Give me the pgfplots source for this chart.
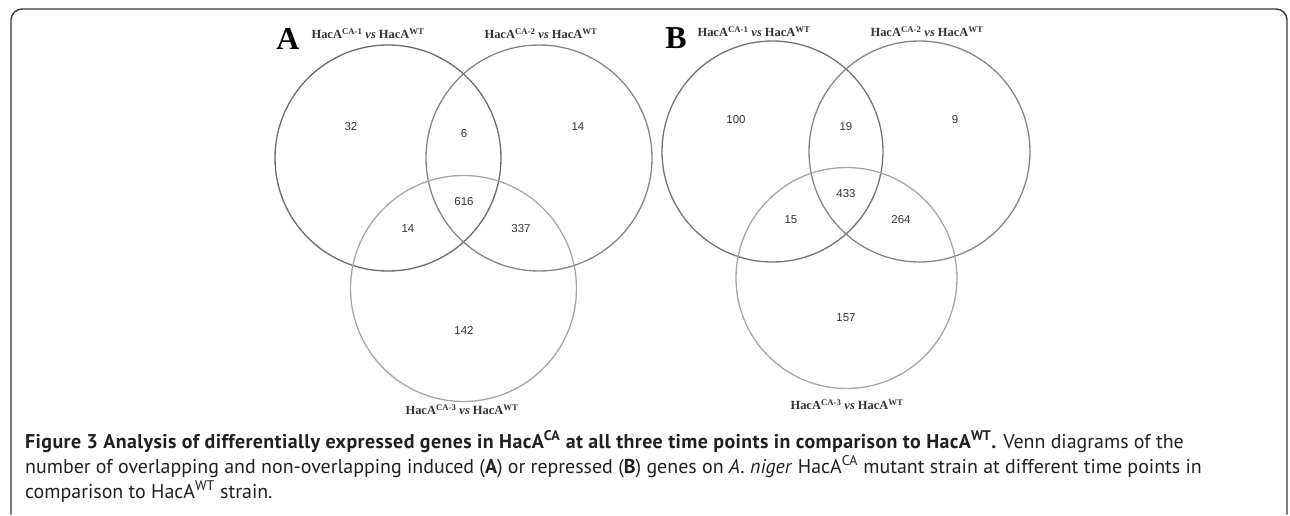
\documentclass[border=0pt]{standalone}
\usepackage{pgfplots}
\usepackage{pgfplotstable}
\pgfplotsset{compat=1.18}
\usepackage{fontspec}
\setmainfont{PT Sans}
\newfontfamily\seriff{Liberation Serif}
\newfontfamily\numf{Liberation Sans}
\definecolor{numc}{HTML}{333333}
\definecolor{capc}{HTML}{231F20}

% region counts: x y (pixel position) and value
\pgfplotstableread{
x y label
351 127 32
464 134 6
578 127 14
464 202 616
408 229 14
521 229 337
464 330 142
}\countsA
\pgfplotstableread{
x y label
736 120 100
846 127 19
955 120 9
846 194 433
791 220 15
901 220 264
846 318 157
}\countsB

\newcommand{\lab}[1]{{\seriff\bfseries HacA\textsuperscript{CA-#1} \textit{vs} HacA\textsuperscript{WT}}}

\begin{document}
\begin{tikzpicture}
\useasboundingbox (0,0) rectangle (1290bp,516bp);
\begin{axis}[
  at={(0,0)}, anchor=south west,
  scale only axis, width=1290bp, height=516bp,
  xmin=0, xmax=1290, ymin=0, ymax=516, y dir=reverse,
  hide axis, clip=false,
]
% frame
\draw[rounded corners=11bp, line width=1.4bp, black!78]
  (axis cs:11,514.5) -- (axis cs:11,9) -- (axis cs:1287,9) -- (axis cs:1287,514.5);

% Panel A circles
\draw[line width=1.3bp, black!58] (axis cs:388,158) circle [radius=113bp];
\draw[line width=1.3bp, black!48] (axis cs:539,158) circle [radius=113bp];
\draw[line width=1.3bp, black!35] (axis cs:463.5,288.5) circle [radius=113bp];
% Panel B circles
\draw[line width=1.3bp, black!55] (axis cs:772.5,151.5) circle [radius=110.5bp];
\draw[line width=1.3bp, black!48] (axis cs:919.5,151.5) circle [radius=110.5bp];
\draw[line width=1.3bp, black!35] (axis cs:846.5,278) circle [radius=110.5bp];

\addplot[draw=none, mark=none, nodes near coords, point meta=explicit symbolic,
  nodes near coords style={anchor=center, inner sep=0pt, text=numc, font=\numf\fontsize{11.5}{13}\selectfont}]
  table[x=x, y=y, meta=label] {\countsA};
\addplot[draw=none, mark=none, nodes near coords, point meta=explicit symbolic,
  nodes near coords style={anchor=center, inner sep=0pt, text=numc, font=\numf\fontsize{11.5}{13}\selectfont}]
  table[x=x, y=y, meta=label] {\countsB};

% panel letters
\node[text=black, inner sep=0pt, font=\seriff\bfseries\fontsize{32}{34}\selectfont] at (axis cs:288,38.5) {A};
\node[text=black, inner sep=0pt, font=\seriff\bfseries\fontsize{32}{34}\selectfont] at (axis cs:676,38) {B};

% set labels
\tikzset{setlab/.style={text=numc, inner sep=0pt, font=\fontsize{12.5}{14}\selectfont}}
\node[setlab] at (axis cs:368,34) {\lab{1}};
\node[setlab] at (axis cs:541,34) {\lab{2}};
\node[setlab] at (axis cs:462,410) {\lab{3}};
\node[setlab] at (axis cs:754,32) {\lab{1}};
\node[setlab] at (axis cs:927,32) {\lab{2}};
\node[setlab] at (axis cs:847,405) {\lab{3}};

% caption
\tikzset{capline/.style={anchor=base west, inner sep=0pt, text=capc, font=\fontsize{20}{24}\selectfont}}
\node[capline] at (axis cs:25,448) {{\bfseries\addfontfeature{LetterSpace=2.0}Figure 3 Analysis of differentially expressed genes in HacA\textsuperscript{CA} at all three time points in comparison to HacA\textsuperscript{WT}.} Venn diagrams of the};
\node[capline] at (axis cs:25,473) {number of overlapping and non-overlapping induced (\textbf{A}) or repressed (\textbf{B}) genes on \textit{A. niger} HacA\textsuperscript{CA} mutant strain at different time points in};
\node[capline] at (axis cs:25,498) {comparison to HacA\textsuperscript{WT} strain.};
\end{axis}
\end{tikzpicture}
\end{document}
